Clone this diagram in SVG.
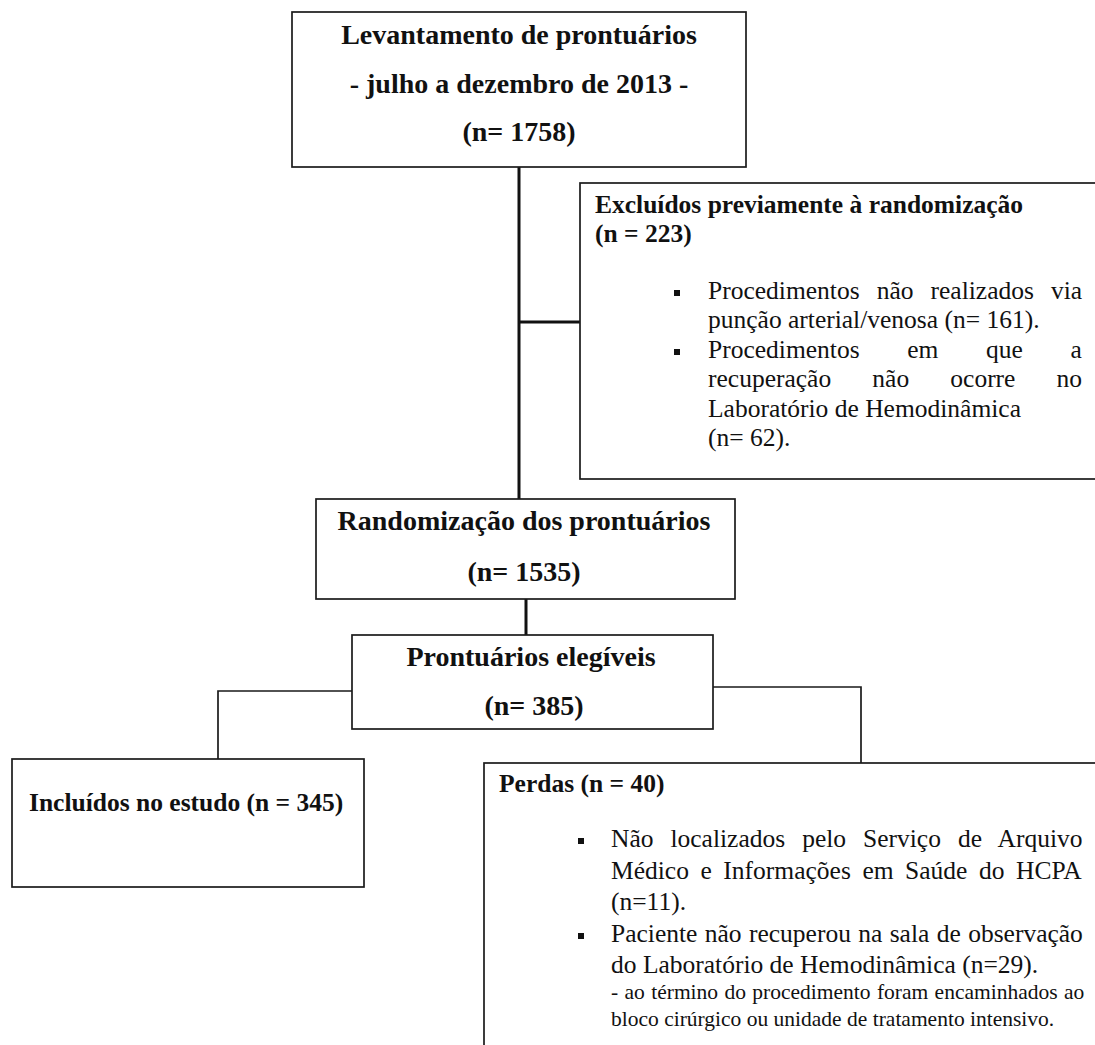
<svg xmlns="http://www.w3.org/2000/svg" width="1095" height="1045" viewBox="0 0 1095 1045">
<style>
.box{fill:#fff;stroke:#1a1a1a;stroke-width:1.7}
.thick{fill:none;stroke:#111;stroke-width:3}
.thin{fill:none;stroke:#1a1a1a;stroke-width:1.7}
.t{font-family:"Liberation Serif","Times New Roman",serif;fill:#111}
.big{font-size:28px;font-weight:bold;text-anchor:middle}
.hd{font-size:25.5px;font-weight:bold}
.bd{font-size:25.5px}
.sm{font-size:21.5px}
.bul{fill:#111}
</style>
<rect width="1095" height="1045" fill="#fff"/>
<g id="connectors">
<path class="thick" d="M519,167 V499"/>
<path class="thick" d="M519,322 H580"/>
<path class="thick" d="M526,599 V635"/>
<path class="thin" d="M352,691 H218 V759"/>
<path class="thin" d="M713,687 H861 V763"/>
</g>
<g id="levantamento">
<rect class="box" x="292" y="12" width="454" height="155"/>
<text class="t big" x="519" y="44">Levantamento de prontuários</text>
<text class="t big" x="519" y="93">- julho a dezembro de 2013 -</text>
<text class="t big" x="519" y="141">(n= 1758)</text>
</g>
<g id="excluidos">
<rect class="box" x="580" y="183" width="530" height="296"/>
<text class="t hd" x="595" y="213">Excluídos previamente à randomização</text>
<text class="t hd" x="595" y="242">(n = 223)</text>
<rect class="bul" x="674" y="290" width="6" height="6"/>
<text class="t bd" x="708" y="299" style="word-spacing:10.7px">Procedimentos não realizados via</text>
<text class="t bd" x="708" y="328">punção arterial/venosa (n= 161).</text>
<rect class="bul" x="674" y="349" width="6" height="6"/>
<text class="t bd" x="708" y="358" style="word-spacing:41.3px">Procedimentos em que a</text>
<text class="t bd" x="708" y="387" style="word-spacing:34.8px">recuperação não ocorre no</text>
<text class="t bd" x="708" y="417">Laboratório de Hemodinâmica</text>
<text class="t bd" x="708" y="446">(n= 62).</text>
</g>
<g id="randomizacao">
<rect class="box" x="316" y="499" width="419" height="100"/>
<text class="t big" x="524" y="530">Randomização dos prontuários</text>
<text class="t big" x="524" y="581">(n= 1535)</text>
</g>
<g id="elegiveis">
<rect class="box" x="352" y="635" width="361" height="94"/>
<text class="t big" x="531" y="666">Prontuários elegíveis</text>
<text class="t big" x="534" y="715">(n= 385)</text>
</g>
<g id="incluidos">
<rect class="box" x="12" y="759" width="352" height="128"/>
<text class="t hd" x="29" y="811">Incluídos no estudo (n = 345)</text>
</g>
<g id="perdas">
<rect class="box" x="484" y="763" width="620" height="300"/>
<text class="t hd" x="499" y="792">Perdas (n = 40)</text>
<rect class="bul" x="578" y="838" width="6" height="6"/>
<text class="t bd" x="611" y="847" style="word-spacing:10.6px">Não localizados pelo Serviço de Arquivo</text>
<text class="t bd" x="611" y="879" style="word-spacing:5.2px">Médico e Informações em Saúde do HCPA</text>
<text class="t bd" x="611" y="910">(n=11).</text>
<rect class="bul" x="578" y="933" width="6" height="6"/>
<text class="t bd" x="611" y="942" style="word-spacing:1px">Paciente não recuperou na sala de observação</text>
<text class="t bd" x="611" y="973">do Laboratório de Hemodinâmica (n=29).</text>
<text class="t sm" x="611" y="999" style="word-spacing:1px">- ao término do procedimento foram encaminhados ao</text>
<text class="t sm" x="611" y="1026">bloco cirúrgico ou unidade de tratamento intensivo.</text>
</g>
</svg>
